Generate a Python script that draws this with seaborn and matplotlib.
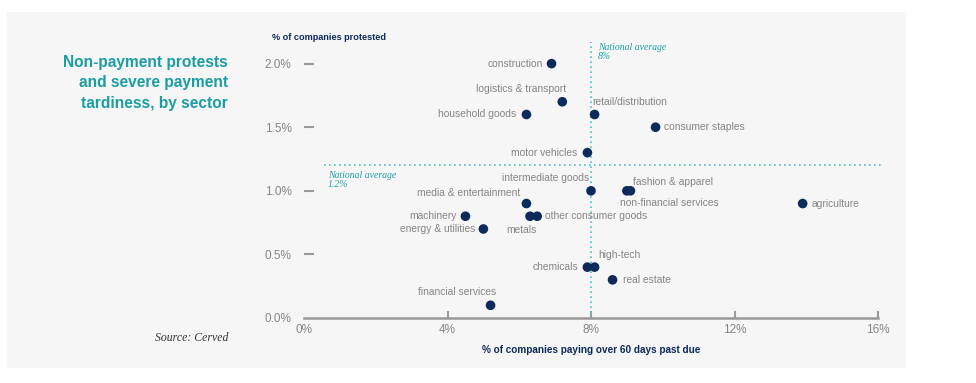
import numpy as np
import pandas as pd
import matplotlib
matplotlib.use("Agg")
import matplotlib.pyplot as plt
import seaborn as sns
from matplotlib.patches import Rectangle

# values
sectors = ["construction", "logistics & transport", "household goods", "retail/distribution",
           "consumer staples", "motor vehicles", "intermediate goods", "fashion & apparel",
           "non-financial services", "agriculture", "media & entertainment", "machinery",
           "metals", "other consumer goods", "energy & utilities", "chemicals", "high-tech",
           "real estate", "financial services"]
late_pct = [6.9, 7.2, 6.2, 8.1, 9.8, 7.9, 8.0, 9.1, 9.0, 13.9, 6.2, 4.5, 6.3, 6.5, 5.0, 7.9, 8.1, 8.6, 5.2]
protest_pct = [2.0, 1.7, 1.6, 1.6, 1.5, 1.3, 1.0, 1.0, 1.0, 0.9, 0.9, 0.8, 0.8, 0.8, 0.7, 0.4, 0.4, 0.3, 0.1]
avg_late = 8
avg_protest = 1.2
x_ticks = [0, 4, 8, 12, 16]
y_ticks = [0.0, 0.5, 1.0, 1.5, 2.0]

df = pd.DataFrame({"sector": sectors, "late": late_pct, "protest": protest_pct})

# label placement: (ha, dx px, dy px)
label_pos = {
    "construction": ("right", -9, 0),
    "logistics & transport": ("right", 4, 13),
    "household goods": ("right", -10, 0),
    "retail/distribution": ("left", -2, 12),
    "consumer staples": ("left", 8, 0),
    "motor vehicles": ("right", -10, 0),
    "intermediate goods": ("right", -2, 13),
    "fashion & apparel": ("left", 3, 9),
    "non-financial services": ("left", -7, -12),
    "agriculture": ("left", 9, 0),
    "media & entertainment": ("right", -6, 11),
    "machinery": ("right", -9, 0),
    "metals": ("right", 7, -14),
    "other consumer goods": ("left", 8, 0),
    "energy & utilities": ("right", -8, 0),
    "chemicals": ("right", -9, 0),
    "high-tech": ("left", 4, 12),
    "real estate": ("left", 10, 0),
    "financial services": ("right", 6, 13),
}

navy = "#0c2a5b"
gray = "#858585"
teal = "#1a9ea4"
teal_line = "#4cbfc5"
panel = "#f6f6f6"

sns.set_style("white")
plt.rcParams["font.family"] = ["Liberation Sans", "DejaVu Sans"]

fig = plt.figure(figsize=(9.76, 3.83), dpi=100, facecolor="white")
fig.patches.append(Rectangle((7 / 976, 1 - 368 / 383), 899 / 976, 356 / 383,
                             transform=fig.transFigure, facecolor=panel, edgecolor="none", zorder=-10))
ax = fig.add_axes([304 / 976, 1 - 318 / 383, 574 / 976, 276 / 383])
ax.set_facecolor("none")

sns.scatterplot(data=df, x="late", y="protest", color=navy, s=48, edgecolor="none", ax=ax, zorder=3)

ax.set_xlim(0, 16)
ax.set_ylim(0, 2.17)

for s in ["top", "right", "left"]:
    ax.spines[s].set_visible(False)
ax.spines["bottom"].set_color("#9a9a9a")
ax.spines["bottom"].set_linewidth(1.8)

ax.set_xticks(x_ticks)
ax.set_xticklabels([f"{v}%" for v in x_ticks])
ax.set_yticks(y_ticks)
ax.set_yticklabels([f"{v:.1f}%" for v in y_ticks])
ax.tick_params(axis="x", bottom=True, direction="in", length=5, width=1.5, color="#9a9a9a",
               labelcolor=gray, labelsize=8.5, pad=4)
ax.tick_params(axis="y", left=True, direction="in", length=7, width=1.5, color="#9a9a9a",
               labelcolor=gray, labelsize=8.5, pad=9)
ax.yaxis.get_ticklines()[0].set_visible(False)
ax.xaxis.get_ticklines()[0].set_visible(False)
ax.set_xlabel("% of companies paying over 60 days past due", color=navy, fontsize=7.2,
              fontweight="bold", labelpad=7)
ax.set_ylabel("")

# national averages
ax.axvline(avg_late, color=teal_line, linestyle=(0, (1, 2)), linewidth=1.2, zorder=1)
ax.plot([0.55, 16.1], [avg_protest, avg_protest], color=teal_line, linestyle=(0, (1, 2)),
        linewidth=1.2, zorder=1, clip_on=False)
ax.annotate(f"National average\n{avg_late}%", (avg_late, 2.17), xytext=(5, -1),
            textcoords="offset points", ha="left", va="top", color=teal, fontsize=7,
            family="Liberation Serif", style="italic", linespacing=1.0)
ax.annotate(f"National average\n{avg_protest}%", (0.55, avg_protest), xytext=(3, -4),
            textcoords="offset points", ha="left", va="top", color=teal, fontsize=7,
            family="Liberation Serif", style="italic", linespacing=1.0)

for name, x, y in zip(sectors, late_pct, protest_pct):
    ha, dx, dy = label_pos[name]
    ax.annotate(name, (x, y), xytext=(dx * 0.72, dy * 0.72), textcoords="offset points",
                ha=ha, va="center", color=gray, fontsize=7.4)

ax.text(-0.055, 1.0, "% of companies protested", transform=ax.transAxes, ha="left",
        va="bottom", color=navy, fontsize=6.6, fontweight="bold")

fig.text(228 / 976, 1 - 55 / 383, "Non-payment protests\nand severe payment\ntardiness, by sector",
         ha="right", va="top", color=teal, fontsize=11.2, fontweight="bold", linespacing=1.45)
fig.text(228 / 976, 1 - 338 / 383, "Source: Cerved", ha="right", va="center", color="#333333",
         fontsize=8.5, family="Liberation Serif", style="italic")

fig.savefig("out.png", dpi=100, facecolor="white")
